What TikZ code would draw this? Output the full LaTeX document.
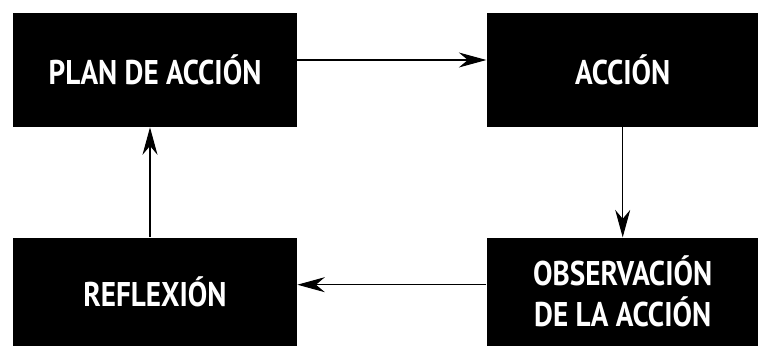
\documentclass[tikz,border=0pt]{standalone}
\usepackage{fontspec}
\setmainfont{PT Sans}[FakeStretch=0.85]
\usetikzlibrary{arrows, arrows.meta, positioning}
\tikzstyle{stagebox} = [
	rectangle,
	fill=black,
	text=white,
	align=center,
	inner sep=0pt,
	font=\bfseries\fontsize{19.5}{23.3}\selectfont,
]
\tikzstyle{arrow} = [line width=0.6pt,->,>={Stealth[length=5.5mm,width=3mm]}]

\begin{document}
\begin{tikzpicture}
		\useasboundingbox (0,0) rectangle (15.16,-6.9);
		\node (plan) [stagebox, minimum width=5.68cm, minimum height=2.28cm] at (3.10,-1.40) {PLAN DE ACCIÓN};
		\node (accion) [stagebox, minimum width=5.44cm, minimum height=2.28cm, right=3.78cm of plan] {ACCIÓN};
		\node (obs) [stagebox, minimum width=5.44cm, minimum height=2.16cm, below=2.2cm of accion] {OBSERVACIÓN\\DE LA ACCIÓN};
		\node (refl) [stagebox, minimum width=5.68cm, minimum height=2.16cm, left=3.78cm of obs] {REFLEXIÓN};

		\draw [arrow] ([yshift=0.2cm]plan.east) -- ([yshift=0.2cm]accion.west);
		\draw [arrow] (accion) -- (obs);
		\draw [arrow] ([yshift=0.14cm]obs.west) -- ([yshift=0.14cm]refl.east);
		\draw [arrow] ([xshift=-0.1cm]refl.north) -- ([xshift=-0.1cm]plan.south);
	\end{tikzpicture}
\end{document}
